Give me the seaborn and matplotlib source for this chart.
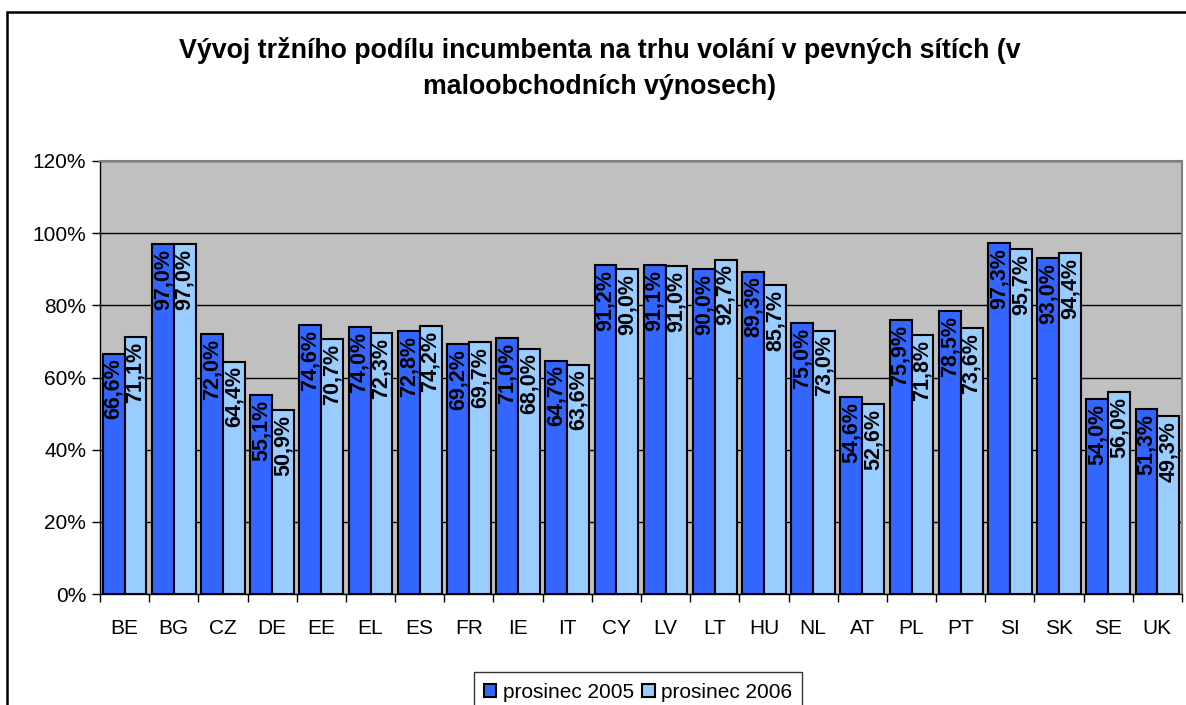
import matplotlib
matplotlib.use("Agg")
import matplotlib.pyplot as plt
import seaborn as sns
import pandas as pd
from matplotlib.patches import Rectangle
from matplotlib.ticker import PercentFormatter, FixedLocator

countries = ["BE", "BG", "CZ", "DE", "EE", "EL", "ES", "FR", "IE", "IT", "CY",
             "LV", "LT", "HU", "NL", "AT", "PL", "PT", "SI", "SK", "SE", "UK"]
dec_2005 = [66.6, 97.0, 72.0, 55.1, 74.6, 74.0, 72.8, 69.2, 71.0, 64.7, 91.2,
            91.1, 90.0, 89.3, 75.0, 54.6, 75.9, 78.5, 97.3, 93.0, 54.0, 51.3]
dec_2006 = [71.1, 97.0, 64.4, 50.9, 70.7, 72.3, 74.2, 69.7, 68.0, 63.6, 90.0,
            91.0, 92.7, 85.7, 73.0, 52.6, 71.8, 73.6, 95.7, 94.4, 56.0, 49.3]
series = ["prosinec 2005", "prosinec 2006"]
colors = ["#3366FF", "#99CCFF"]

df = pd.DataFrame({
    "country": countries * 2,
    "series": [series[0]] * len(countries) + [series[1]] * len(countries),
    "share": [v / 100 for v in dec_2005 + dec_2006],
})

sns.set_theme(style="white")
plt.rcParams["font.family"] = ["Liberation Sans", "DejaVu Sans"]
plt.rcParams["text.color"] = "black"
plt.rcParams["xtick.color"] = "black"
plt.rcParams["ytick.color"] = "black"

fig = plt.figure(figsize=(11.86, 7.05), dpi=100)
fig.patch.set_facecolor("white")
ax = fig.add_axes([100 / 1186, 1 - 594 / 705, 1082 / 1186, 433 / 705])

sns.barplot(data=df, x="country", y="share", hue="series", palette=colors,
            saturation=1, width=0.89, gap=0, edgecolor="black", linewidth=1.5,
            ax=ax, legend=True, zorder=3)

ax.set_facecolor("#C0C0C0")
ax.set_ylim(0, 1.2)
ax.set_xlim(-0.5, len(countries) - 0.5)
ax.yaxis.set_major_locator(FixedLocator([0, 0.2, 0.4, 0.6, 0.8, 1.0, 1.2]))
ax.yaxis.set_major_formatter(PercentFormatter(1.0, decimals=0))
ax.grid(axis="y", color="black", linewidth=1, zorder=0)
ax.set_axisbelow(True)
ax.set_xlabel("")
ax.set_ylabel("")

for s in ["left", "bottom"]:
    ax.spines[s].set_color("black")
    ax.spines[s].set_linewidth(1)
for s in ["top", "right"]:
    ax.spines[s].set_color("#808080")
    ax.spines[s].set_linewidth(1.5)

ax.tick_params(axis="y", left=True, length=6, width=1, color="black",
               labelsize=15, pad=4, labelcolor="black")
ax.tick_params(axis="x", which="major", bottom=False, labelsize=15, pad=12,
               labelcolor="black")
ax.xaxis.set_minor_locator(FixedLocator([i - 0.5 for i in range(len(countries) + 1)]))
ax.tick_params(axis="x", which="minor", bottom=True, length=6, width=1, color="black")

# value labels inside bars, rotated
for p in ax.patches:
    h = p.get_height()
    if h is None or h != h or p.get_width() == 0:
        continue
    ax.annotate(f"{h * 100:.1f}%".replace(".", ","),
                (p.get_x() + p.get_width() / 2, h),
                xytext=(0, -3.5), textcoords="offset points",
                ha="center", va="top", rotation=90,
                fontsize=15.5, fontweight="bold", color="black", zorder=5)

handles, labels = ax.get_legend_handles_labels()
ax.get_legend().remove()
leg = fig.legend(handles, labels, loc="upper center", ncol=2,
                 bbox_to_anchor=(638 / 1186, 1 - 662 / 705),
                 fontsize=15, frameon=True, fancybox=False, edgecolor="black",
                 handlelength=0.6, handleheight=0.6, handletextpad=0.3,
                 columnspacing=0.4, borderpad=0.5)
leg.get_frame().set_linewidth(1)
for t in leg.get_texts():
    t.set_color("black")

fig.text(600 / 1186, 1 - 50 / 705,
         "Vývoj tržního podílu incumbenta na trhu volání v pevných sítích (v",
         ha="center", va="center", fontsize=19.3, fontweight="bold", color="black")
fig.text(600 / 1186, 1 - 87 / 705, "maloobchodních výnosech)",
         ha="center", va="center", fontsize=19.3, fontweight="bold", color="black")

fig.patches.append(Rectangle((7 / 1186, -0.05), 1.2, 1 - 12 / 705 + 0.05,
                             transform=fig.transFigure, fill=False,
                             edgecolor="black", linewidth=1.8, zorder=0))

fig.savefig("out.png", dpi=100)
